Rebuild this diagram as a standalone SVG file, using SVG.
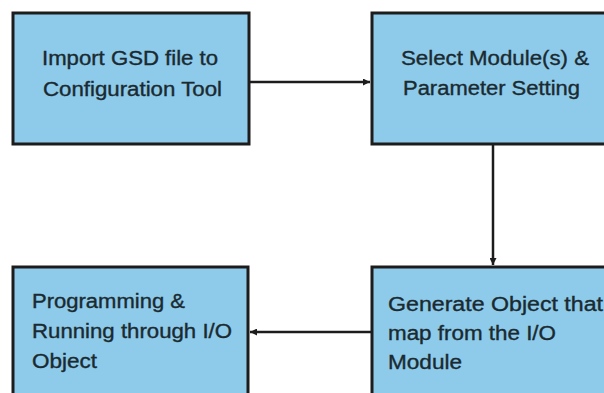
<svg xmlns="http://www.w3.org/2000/svg" width="604" height="393" viewBox="0 0 604 393">
<defs>
<style>
.box{fill:#8ecaea;stroke:#1c1c1c;stroke-width:3}
.lbl{font-family:"Liberation Sans",Arial,sans-serif;font-size:19.5px;fill:#1a2a30;stroke:#1a2a30;stroke-width:0.35}
.con{stroke:#1c1c1c;stroke-width:2.5;fill:none}
</style>
<marker id="arr" viewBox="0 0 10 10" refX="10" refY="5" markerWidth="8" markerHeight="7" markerUnits="userSpaceOnUse" orient="auto">
<path d="M0,0 L10,5 L0,10 Z" fill="#1c1c1c"/>
</marker>
</defs>
<rect width="604" height="393" fill="#ffffff"/>
<g id="node-import">
<rect class="box" x="13" y="13" width="236" height="131"/>
<text class="lbl" x="42" y="65" textLength="176" lengthAdjust="spacingAndGlyphs">Import GSD file to</text>
<text class="lbl" x="43" y="96" textLength="179" lengthAdjust="spacingAndGlyphs">Configuration Tool</text>
</g>
<g id="node-select">
<rect class="box" x="372" y="13" width="250" height="131"/>
<text class="lbl" x="401" y="65" textLength="188" lengthAdjust="spacingAndGlyphs">Select Module(s) &amp;</text>
<text class="lbl" x="403" y="95" textLength="177" lengthAdjust="spacingAndGlyphs">Parameter Setting</text>
</g>
<g id="node-programming">
<rect class="box" x="13" y="267" width="235" height="140"/>
<text class="lbl" x="32" y="308" textLength="153" lengthAdjust="spacingAndGlyphs">Programming &amp;</text>
<text class="lbl" x="32" y="338" textLength="200" lengthAdjust="spacingAndGlyphs">Running through I/O</text>
<text class="lbl" x="32" y="368" textLength="65" lengthAdjust="spacingAndGlyphs">Object</text>
</g>
<g id="node-generate">
<rect class="box" x="372" y="267" width="250" height="140"/>
<text class="lbl" x="388" y="311" textLength="215" lengthAdjust="spacingAndGlyphs">Generate Object that</text>
<text class="lbl" x="388" y="340" textLength="168" lengthAdjust="spacingAndGlyphs">map from the I/O</text>
<text class="lbl" x="388" y="369" textLength="74" lengthAdjust="spacingAndGlyphs">Module</text>
</g>
<g id="connectors">
<line class="con" x1="250" y1="82" x2="370" y2="82" marker-end="url(#arr)"/>
<line class="con" x1="493" y1="145" x2="493" y2="265" marker-end="url(#arr)"/>
<line class="con" x1="372" y1="332" x2="250" y2="332" marker-end="url(#arr)"/>
</g>
</svg>
